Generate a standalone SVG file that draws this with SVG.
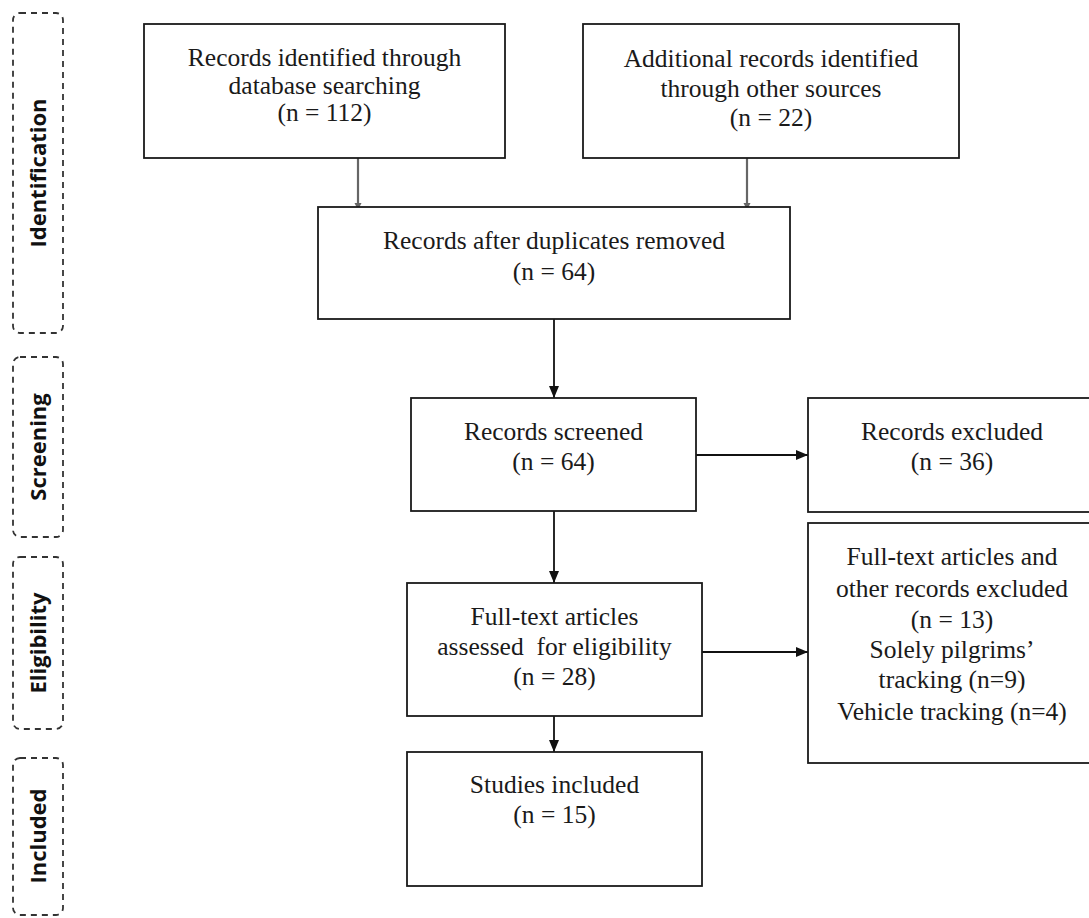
<svg xmlns="http://www.w3.org/2000/svg" width="1089" height="918" viewBox="0 0 1089 918">
<style>
.box{fill:#fff;stroke:#1a1a1a;stroke-width:1.8}
.phase{fill:none;stroke:#333;stroke-width:1.8;stroke-dasharray:6 5}
.t{font-family:"Liberation Serif","Times New Roman",serif;font-size:25.5px;fill:#1a1a1a;text-anchor:middle}
.pt{font-family:"Open Sans","Liberation Sans",sans-serif;font-weight:700;font-size:22px;fill:#111;text-anchor:middle}
.c{stroke:#111;stroke-width:1.8;fill:none}
.g{stroke:#666;stroke-width:2.2;fill:none}
</style>
<defs>
<marker id="ah" markerUnits="userSpaceOnUse" markerWidth="12" markerHeight="10" refX="12" refY="5" orient="auto">
<path d="M0,0 L12,5 L0,10 z" fill="#111"/>
</marker>
<marker id="gh" markerUnits="userSpaceOnUse" markerWidth="4" markerHeight="10" refX="4" refY="5" orient="auto">
<path d="M0,1.5 L4,3.5 L4,6.5 L0,8.5 z" fill="#666"/>
</marker>
</defs>
<rect width="1089" height="918" fill="#fff"/>

<g id="phase-identification">
<rect class="phase" x="13" y="13" width="50" height="320" rx="7"/>
<text class="pt" transform="translate(46,173) rotate(-90)">Identification</text>
</g>
<g id="phase-screening">
<rect class="phase" x="13" y="357" width="50" height="180" rx="7"/>
<text class="pt" transform="translate(46,447) rotate(-90)">Screening</text>
</g>
<g id="phase-eligibility">
<rect class="phase" x="13" y="557" width="50" height="172" rx="7"/>
<text class="pt" transform="translate(46,643) rotate(-90)">Eligibility</text>
</g>
<g id="phase-included">
<rect class="phase" x="13" y="758" width="50" height="157" rx="7"/>
<text class="pt" transform="translate(46,836) rotate(-90)">Included</text>
</g>

<g id="connectors">
<line class="g" x1="358" y1="158" x2="358" y2="207" marker-end="url(#gh)"/>
<line class="g" x1="747" y1="158" x2="747" y2="207" marker-end="url(#gh)"/>
<line class="c" x1="554" y1="319" x2="554" y2="398" marker-end="url(#ah)"/>
<line class="c" x1="696" y1="455" x2="808" y2="455" marker-end="url(#ah)"/>
<line class="c" x1="554" y1="511" x2="554" y2="583" marker-end="url(#ah)"/>
<line class="c" x1="702" y1="652" x2="808" y2="652" marker-end="url(#ah)"/>
<line class="c" x1="554" y1="716" x2="554" y2="752" marker-end="url(#ah)"/>
</g>

<g id="db-search">
<rect class="box" x="144" y="24" width="361" height="134"/>
<text class="t" x="324.5" y="66">Records identified through</text>
<text class="t" x="324.5" y="94">database searching</text>
<text class="t" x="324.5" y="121">(n = 112)</text>
</g>
<g id="other-sources">
<rect class="box" x="583" y="24" width="376" height="134"/>
<text class="t" x="771" y="67">Additional records identified</text>
<text class="t" x="771" y="97">through other sources</text>
<text class="t" x="771" y="126">(n = 22)</text>
</g>
<g id="dedup">
<rect class="box" x="318" y="207" width="472" height="112"/>
<text class="t" x="554" y="249">Records after duplicates removed</text>
<text class="t" x="554" y="280">(n = 64)</text>
</g>
<g id="screened">
<rect class="box" x="411" y="398" width="285" height="113"/>
<text class="t" x="553.5" y="440">Records screened</text>
<text class="t" x="553.5" y="470">(n = 64)</text>
</g>
<g id="excluded">
<rect class="box" x="808" y="398" width="288" height="114"/>
<text class="t" x="952" y="440">Records excluded</text>
<text class="t" x="952" y="470">(n = 36)</text>
</g>
<g id="fulltext">
<rect class="box" x="407" y="583" width="295" height="133"/>
<text class="t" x="554.5" y="625">Full-text articles</text>
<text class="t" x="554.5" y="655" xml:space="preserve">assessed  for eligibility</text>
<text class="t" x="554.5" y="685">(n = 28)</text>
</g>
<g id="fulltext-excluded">
<rect class="box" x="808" y="523" width="288" height="240"/>
<text class="t" x="952" y="565">Full-text articles and</text>
<text class="t" x="952" y="597">other records excluded</text>
<text class="t" x="952" y="628">(n = 13)</text>
<text class="t" x="952" y="658">Solely pilgrims’</text>
<text class="t" x="952" y="688">tracking (n=9)</text>
<text class="t" x="952" y="720">Vehicle tracking (n=4)</text>
</g>
<g id="included">
<rect class="box" x="407" y="752" width="295" height="134"/>
<text class="t" x="554.5" y="793">Studies included</text>
<text class="t" x="554.5" y="823">(n = 15)</text>
</g>
</svg>
